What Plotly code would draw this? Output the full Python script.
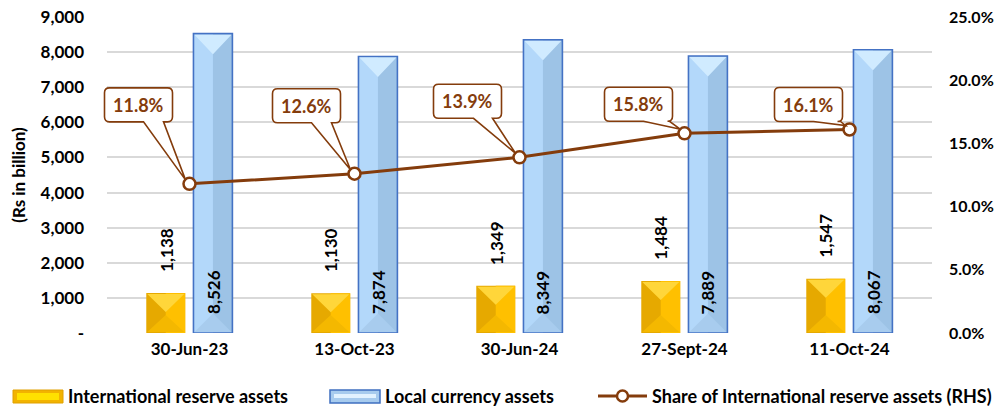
import plotly.graph_objects as go

# ---------------- data ----------------
categories = ["30-Jun-23", "13-Oct-23", "30-Jun-24", "27-Sept-24", "11-Oct-24"]
international = [1138, 1130, 1349, 1484, 1547]
local = [8526, 7874, 8349, 7889, 8067]
share = [11.8, 12.6, 13.9, 15.8, 16.1]
left_ticks = [0, 1000, 2000, 3000, 4000, 5000, 6000, 7000, 8000, 9000]
right_ticks = [0, 5, 10, 15, 20, 25]

# ---------------- layout constants ----------------
W, H = 996, 409
ML, MR, MT, MB = 107, 64, 17, 76
PLOT_W = W - ML - MR
PLOT_H = H - MT - MB
Y_MAX = 9000
Y2_MAX = 25
X_MIN, X_MAX = -0.5, len(categories) - 0.5
PX_X = PLOT_W / (X_MAX - X_MIN)
PX_Y = PLOT_H / Y_MAX

FONT = "Lato"
BROWN = "#843C0C"
GOLD_LEFT, GOLD_RIGHT, GOLD_TOP, GOLD_BOT = "#E6A900", "#FFC000", "#FFD63A", "#F4B800"
BLUE_LEFT, BLUE_RIGHT, BLUE_TOP, BLUE_BOT = "#B3D8FA", "#9DC3E6", "#D0EBFF", "#A8CCEE"
BLUE_EDGE = "#4472C4"
GRID = "#D9D9D9"

BAR_W = 0.236
GOLD_OFF = -0.262
BLUE_OFF = 0.024

# callout box offsets (pixels, y up) relative to each line point
callout_offsets = [(-51, 79), (-48, 68), (-52, 56), (-46, 29), (-41, 25)]
callout_tail = [(5, 25), (5, 25), (6, 25), (5, 31), (5, 32)]
BOX_W, BOX_H, BOX_R = 68, 34, 5

xs = list(range(len(categories)))
fig = go.Figure()

# ---------------- bars ----------------
fig.add_trace(go.Bar(x=xs, y=international, width=BAR_W, offset=GOLD_OFF,
                     marker=dict(color=GOLD_LEFT, line=dict(width=0)),
                     name="International reserve assets", showlegend=False, hoverinfo="skip"))
fig.add_trace(go.Bar(x=xs, y=international, width=BAR_W / 2, offset=GOLD_OFF + BAR_W / 2,
                     marker=dict(color=GOLD_RIGHT, line=dict(width=0)),
                     showlegend=False, hoverinfo="skip"))
fig.add_trace(go.Bar(x=xs, y=local, width=BAR_W, offset=BLUE_OFF,
                     marker=dict(color=BLUE_LEFT, line=dict(width=0)),
                     name="Local currency assets", showlegend=False, hoverinfo="skip"))
fig.add_trace(go.Bar(x=xs, y=local, width=BAR_W / 2, offset=BLUE_OFF + BAR_W / 2,
                     marker=dict(color=BLUE_RIGHT, line=dict(width=0)),
                     showlegend=False, hoverinfo="skip"))
fig.add_trace(go.Bar(x=xs, y=local, width=BAR_W, offset=BLUE_OFF,
                     marker=dict(color="rgba(0,0,0,0)", line=dict(width=1.6, color=BLUE_EDGE)),
                     showlegend=False, hoverinfo="skip"))


# ---------------- bevel facets (derived from bar values) ----------------
def bevel(values, off, depth_px, color_top, color_bot):
    ix = 1.0 / PX_X
    iy = 1.0 / PX_Y
    tx, ty, bx, by = [], [], [], []
    for i, v in enumerate(values):
        x0 = i + off + ix
        x1 = i + off + BAR_W - ix
        cx = i + off + BAR_W / 2
        d = min(depth_px, v * PX_Y / 2) / PX_Y
        top = v - iy
        tx += [x0, x1, cx, x0, None]
        ty += [top, top, top - d, top, None]
        bx += [x0, x1, cx, x0, None]
        by += [iy, iy, d, iy, None]
    for X, Y, c in ((tx, ty, color_top), (bx, by, color_bot)):
        fig.add_trace(go.Scatter(x=X, y=Y, mode="lines", line=dict(width=0), fill="toself",
                                 fillcolor=c, showlegend=False, hoverinfo="skip"))


bevel(international, GOLD_OFF, 18, GOLD_TOP, GOLD_BOT)
bevel(local, BLUE_OFF, 19.5, BLUE_TOP, BLUE_BOT)

# ---------------- line ----------------
fig.add_trace(go.Scatter(x=xs, y=share, yaxis="y2", mode="lines+markers",
                         name="Share of International reserve assets (RHS)",
                         line=dict(color=BROWN, width=3),
                         marker=dict(symbol="circle", size=12, color="white",
                                     line=dict(color=BROWN, width=2.5)),
                         showlegend=False, hoverinfo="skip"))

shapes = []
annotations = []

# ---------------- callouts ----------------
for i, s in enumerate(share):
    dx, dy = callout_offsets[i]
    t0, t1 = callout_tail[i]
    L, R = dx - BOX_W / 2, dx + BOX_W / 2
    T, B = dy + BOX_H / 2, dy - BOX_H / 2
    r = BOX_R
    path = (f"M{L + r},{T} L{R - r},{T} Q{R},{T} {R},{T - r} L{R},{B + r} Q{R},{B} {R - r},{B} "
            f"L{dx + t1},{B} L-4,4 L{dx + t0},{B} L{L + r},{B} Q{L},{B} {L},{B + r} "
            f"L{L},{T - r} Q{L},{T} {L + r},{T} Z")
    # x anchor expressed as a fraction of the x range so the box is not clipped by the plot area
    shapes.append(dict(type="path", xref="paper", yref="y2", xsizemode="pixel", ysizemode="pixel",
                       xanchor=(i - X_MIN) / (X_MAX - X_MIN), yanchor=s, path=path, fillcolor="white",
                       line=dict(color=BROWN, width=1.6), layer="above"))
    annotations.append(dict(x=i, y=s, xref="x", yref="y2", xshift=dx, yshift=dy,
                            text=f"{s:.1f}%", showarrow=False,
                            font=dict(family=FONT, size=18, color=BROWN, weight="bold")))

# ---------------- data labels ----------------
for i, v in enumerate(international):
    annotations.append(dict(x=i + GOLD_OFF + BAR_W / 2, y=v, xref="x", yref="y",
                            yanchor="bottom", yshift=19, textangle=-90, showarrow=False,
                            text=f"{v:,}", font=dict(family=FONT, size=17, color="black", weight="bold")))
for i, v in enumerate(local):
    annotations.append(dict(x=i + BLUE_OFF + BAR_W / 2, y=0, xref="x", yref="y",
                            yanchor="bottom", yshift=17, textangle=-90, showarrow=False,
                            text=f"{v:,}", font=dict(family=FONT, size=17, color="black", weight="bold")))


# ---------------- custom legend (pixel positions relative to plot bottom-left) ----------------
def px(xp):
    return xp - ML


def py(yp):
    return (H - MB) - yp


LEG_Y = 396
leg_font = dict(family=FONT, size=18, color="black", weight="bold")


def rect(x0, y0, x1, y1, fill, line_color=None, lw=0):
    return dict(type="rect", xref="paper", yref="paper", xsizemode="pixel", ysizemode="pixel",
                xanchor=0, yanchor=0, x0=px(x0), x1=px(x1), y0=py(y0), y1=py(y1),
                fillcolor=fill, line=dict(color=line_color or fill, width=lw), layer="above")


shapes += [
    rect(13, LEG_Y - 6, 63, LEG_Y + 7, "#F2B300", "#E0A000", 1),
    rect(17, LEG_Y - 3, 59, LEG_Y + 4, "#FFE100"),
    rect(330, LEG_Y - 6, 380, LEG_Y + 7, "#A7CBEE", "#3F6FC0", 1.5),
    rect(334, LEG_Y - 2, 376, LEG_Y + 2, "#E2F2FF"),
    dict(type="line", xref="paper", yref="paper", xsizemode="pixel", ysizemode="pixel",
         xanchor=0, yanchor=0, x0=px(598), x1=px(647), y0=py(LEG_Y), y1=py(LEG_Y),
         line=dict(color=BROWN, width=3), layer="above"),
    dict(type="circle", xref="paper", yref="paper", xsizemode="pixel", ysizemode="pixel",
         xanchor=0, yanchor=0, x0=px(617), x1=px(628), y0=py(LEG_Y - 5.5), y1=py(LEG_Y + 5.5),
         fillcolor="white", line=dict(color=BROWN, width=2.5), layer="above"),
]
legend_items = [(66, "International reserve assets"), (383, "Local currency assets"),
                (650, "Share of International reserve assets (RHS)")]
for xp, txt in legend_items:
    annotations.append(dict(x=0, y=0, xref="paper", yref="paper", xshift=px(xp), yshift=py(LEG_Y),
                            xanchor="left", yanchor="middle", showarrow=False, text=txt, font=leg_font))

fig.update_layout(
    width=W, height=H,
    margin=dict(l=ML, r=MR, t=MT, b=MB, autoexpand=False),
    paper_bgcolor="white", plot_bgcolor="white",
    barmode="overlay",
    showlegend=False,
    font=dict(family=FONT, size=17, color="black"),
    xaxis=dict(range=[X_MIN, X_MAX], tickvals=xs, ticktext=categories, automargin=False,
               showgrid=False, zeroline=False, showline=False, ticks="", ticklabelstandoff=4,
               tickfont=dict(family=FONT, size=17, color="black", weight="bold")),
    yaxis=dict(range=[0, Y_MAX], tickvals=left_ticks, automargin=False,
               ticktext=["-" if v == 0 else f"{v:,}" for v in left_ticks],
               showgrid=True, gridcolor=GRID, gridwidth=1.5, zeroline=False, showline=False,
               ticks="", ticklabelstandoff=22,
               tickfont=dict(family=FONT, size=17, color="black", weight="bold"),
               title=dict(text="(Rs in billion)", standoff=10,
                          font=dict(family=FONT, size=17, color="black", weight="bold"))),
    yaxis2=dict(range=[0, Y2_MAX], tickvals=right_ticks, automargin=False,
                ticktext=[f"{v:.1f}%" for v in right_ticks],
                overlaying="y", side="right", showgrid=False, zeroline=False, showline=False,
                ticks="", ticklabelstandoff=16,
                tickfont=dict(family=FONT, size=16, color="black", weight="bold")),
    shapes=shapes,
    annotations=annotations,
)

fig.write_html("out.html")
